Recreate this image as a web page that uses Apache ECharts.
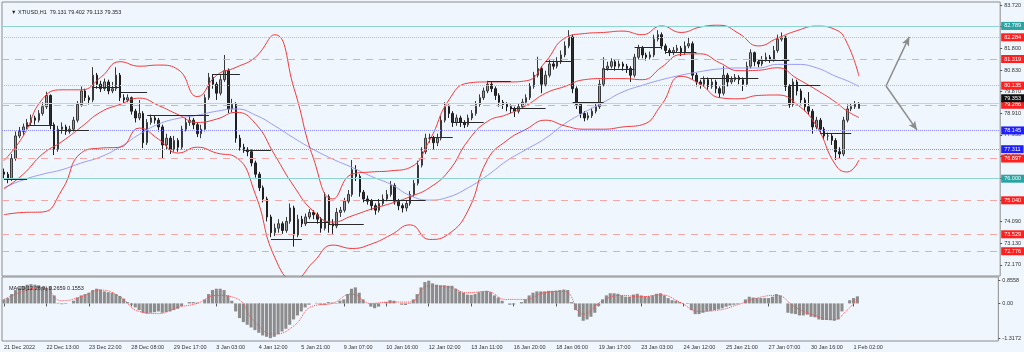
<!DOCTYPE html>
<html><head><meta charset="utf-8">
<script src="https://cdn.jsdelivr.net/npm/echarts@6/dist/echarts.min.js"></script>
<style>html,body{margin:0;padding:0;background:#f0f6fd;}#c{width:1024px;height:352px;}</style>
</head><body><div id="c"></div>
<script>
// ---------- DATA (3-hour bars) ----------
const titleText = '\u25BC XTIUSD,H1  79.131 79.402 79.113 79.353';
const macdTitle = 'MACD(12,26,9) 0.2659 0.1553';
const xTickLabels = ["21 Dec 2022","22 Dec 13:00","23 Dec 22:00","28 Dec 08:00","29 Dec 17:00","3 Jan 03:00","4 Jan 12:00","5 Jan 21:00","9 Jan 07:00","10 Jan 16:00","12 Jan 02:00","13 Jan 11:00","16 Jan 20:00","18 Jan 06:00","19 Jan 17:00","23 Jan 03:00","24 Jan 12:00","25 Jan 21:00","27 Jan 07:00","30 Jan 16:00","1 Feb 02:00"];
const priceTicks = [83.720,82.760,81.800,80.830,79.870,78.910,77.950,76.990,76.030,75.060,74.090,73.130,72.170];
const macdTicks = [0.8558,0,-1.3172];
const macdTickLabels = ['0.8558','0.00','-1.3172'];

const opens = [76.3,76.2,76.0,76.9,77.9,78.1,78.3,78.5,78.7,78.6,
78.9,79.2,79.7,78.4,77.3,78.2,78.3,78.1,78.2,78.6,
79.3,79.9,79.6,79.5,80.6,80.2,80.0,80.3,79.9,80.0,
80.6,79.6,79.5,79.6,79.0,78.7,78.9,77.6,78.5,78.7,
78.6,78.3,77.5,77.8,77.3,77.7,77.4,78.2,78.5,78.6,
78.4,78.0,78.2,79.6,80.5,80.2,79.8,80.4,80.8,79.1,
79.3,77.8,77.4,77.3,77.2,76.7,76.2,75.6,75.1,74.3,
73.6,73.8,74.0,73.7,74.1,74.7,73.5,74.2,74.0,74.3,
74.5,74.4,74.2,73.8,75.2,74.0,73.9,74.5,74.6,75.0,
75.3,76.4,76.1,75.4,75.1,75.0,74.8,74.6,74.9,75.1,
75.3,75.7,75.0,74.8,74.7,74.9,75.3,75.8,76.6,77.2,
77.8,77.8,77.6,77.8,78.6,79.2,78.9,78.5,78.7,78.5,
78.4,78.7,78.9,79.3,79.6,79.9,80.2,80.0,79.7,79.4,
79.3,79.2,79.1,79.0,79.2,79.4,79.6,80.1,80.6,80.9,
80.2,80.6,81.1,81.0,81.2,81.5,81.9,82.3,80.0,79.3,
78.9,78.7,78.8,79.0,79.2,80.2,80.9,81.0,81.2,81.0,
81.1,81.0,80.9,80.6,81.4,81.8,81.5,81.4,81.5,82.2,
82.4,81.9,81.7,81.6,81.7,81.8,81.6,81.9,82.0,80.6,
80.3,80.2,80.4,80.1,80.3,80.0,79.8,80.6,80.3,80.4,
80.5,80.4,80.2,81.0,81.6,81.2,81.1,81.3,81.4,81.3,
81.7,82.2,82.3,80.1,79.3,80.3,79.9,79.5,79.2,79.0,
78.3,78.6,78.2,77.9,77.9,77.7,77.2,77.1,78.6,79.1,79.2,79.131];
const closes = [76.2,76.0,76.9,77.9,78.1,78.3,78.5,78.7,78.6,78.9,
79.2,79.7,78.4,77.3,78.2,78.3,78.1,78.2,78.6,79.3,
79.9,79.6,79.5,80.6,80.2,80.0,80.3,79.9,80.0,80.6,
79.6,79.5,79.6,79.0,78.7,78.9,77.6,78.5,78.7,78.6,
78.3,77.5,77.8,77.3,77.7,77.4,78.2,78.5,78.6,78.4,
78.0,78.2,79.6,80.5,80.2,79.8,80.4,80.8,79.1,79.3,
77.8,77.4,77.3,77.2,76.7,76.2,75.6,75.1,74.3,73.6,
73.8,74.0,73.7,74.1,74.7,73.5,74.2,74.0,74.3,74.5,
74.4,74.2,73.8,75.2,74.0,73.9,74.5,74.6,75.0,75.3,
76.4,76.1,75.4,75.1,75.0,74.8,74.6,74.9,75.1,75.3,
75.7,75.0,74.8,74.7,74.9,75.3,75.8,76.6,77.2,77.8,
77.8,77.6,77.8,78.6,79.2,78.9,78.5,78.7,78.5,78.4,
78.7,78.9,79.3,79.6,79.9,80.2,80.0,79.7,79.4,79.3,
79.2,79.1,79.0,79.2,79.4,79.6,80.1,80.6,80.9,80.2,
80.6,81.1,81.0,81.2,81.5,81.9,82.3,80.0,79.3,78.9,
78.7,78.8,79.0,79.2,80.2,80.9,81.0,81.2,81.0,81.1,
81.0,80.9,80.6,81.4,81.8,81.5,81.4,81.5,82.2,82.4,
81.9,81.7,81.6,81.7,81.8,81.6,81.9,82.0,80.6,80.3,
80.2,80.4,80.1,80.3,80.0,79.8,80.6,80.3,80.4,80.5,
80.4,80.2,81.0,81.6,81.2,81.1,81.3,81.4,81.3,81.7,
82.2,82.3,80.1,79.3,80.3,79.9,79.5,79.2,79.0,78.3,
78.6,78.2,77.9,77.9,77.7,77.2,77.1,78.6,79.1,79.2,79.3,79.353];
const highs = [76.45,76.3,77.1,78.1,78.3,78.45,78.65,78.85,78.8,79.05,
79.4,79.87,79.75,78.5,78.35,78.5,78.4,78.35,78.75,79.45,
80.1,80.0,79.7,80.96,80.7,80.35,80.45,80.4,80.3,80.95,
80.7,79.75,79.75,79.65,79.1,79.5,79.0,78.65,78.85,78.8,
78.7,78.4,78.0,77.9,77.9,77.8,78.35,78.7,78.8,78.7,
78.5,78.4,79.75,80.7,80.65,80.3,80.6,81.5,80.9,79.55,
79.4,77.95,77.55,77.4,77.3,76.8,76.3,75.7,75.2,74.4,
74.0,74.2,74.1,74.3,74.9,74.8,74.4,74.35,74.45,74.65,
74.6,74.5,74.3,75.4,75.3,74.2,74.7,74.75,75.15,75.5,
76.83,76.6,76.2,75.5,75.25,75.1,74.9,75.1,75.3,75.5,
75.9,75.8,75.1,74.9,75.05,75.45,75.95,76.8,77.4,78.0,
78.0,77.9,78.0,78.8,79.4,79.3,79.0,78.85,78.8,78.6,
78.85,79.05,79.45,79.75,80.05,80.35,80.3,80.1,79.8,79.5,
79.4,79.3,79.2,79.35,79.55,79.75,80.25,80.75,81.42,81.0,
80.8,81.3,81.25,81.4,81.7,82.1,82.6,82.4,80.1,79.4,
79.0,78.95,79.15,79.35,80.4,81.4,81.2,81.35,81.3,81.25,
81.2,81.1,81.0,81.55,81.95,81.9,81.6,81.65,82.4,82.6,
82.5,82.0,81.8,81.85,81.95,81.9,82.1,82.3,82.1,80.7,
80.4,80.55,80.5,80.45,80.4,80.1,81.0,80.7,80.55,80.65,
80.6,80.5,81.2,81.75,81.65,81.3,81.45,81.6,81.5,81.9,
82.4,82.5,82.35,80.2,80.45,80.4,80.0,79.6,79.85,79.1,
78.75,78.7,78.3,78.05,78.0,77.8,77.4,78.75,79.3,79.35,79.45,79.402];
const lows = [76.0,75.8,75.9,76.8,77.8,77.95,78.2,78.35,78.4,78.5,
78.8,79.1,78.2,77.05,77.2,78.0,77.95,78.0,78.1,78.5,
79.2,79.45,79.3,79.4,80.0,79.85,79.9,79.75,79.8,79.9,
79.45,79.35,79.4,78.85,78.5,78.6,77.36,77.5,78.4,78.45,
78.1,76.92,77.3,77.1,77.2,77.2,77.3,78.1,78.35,78.2,
77.85,77.8,78.1,79.5,80.0,79.5,79.7,80.3,78.92,78.95,
77.6,77.25,77.15,77.0,76.55,76.05,75.45,74.95,74.1,73.4,
73.45,73.6,73.55,73.6,74.0,72.98,73.4,73.85,73.9,74.2,
74.2,74.0,73.6,73.7,73.6,73.55,73.8,74.3,74.5,74.9,
75.2,75.9,75.2,74.95,74.85,74.6,74.4,74.5,74.8,75.0,
75.2,74.85,74.6,74.5,74.55,74.8,75.2,75.7,76.5,77.1,
77.6,77.3,77.45,77.7,78.5,78.7,78.3,78.35,78.3,78.25,
78.3,78.6,78.8,79.2,79.5,79.8,79.85,79.5,79.2,79.1,
79.0,78.9,78.74,78.9,79.1,79.3,79.5,80.0,80.5,79.8,
80.1,80.5,80.85,80.9,81.1,81.4,81.8,79.8,79.1,78.7,
78.55,78.6,78.7,78.9,79.1,80.1,80.8,80.9,80.8,80.9,
80.8,80.7,80.3,80.5,81.3,81.35,81.25,81.3,81.4,82.1,
81.75,81.55,81.45,81.5,81.6,81.45,81.5,81.8,80.4,80.1,
80.0,80.1,79.95,80.0,79.8,79.6,79.7,80.1,80.2,80.3,
80.2,79.9,80.1,80.9,81.0,80.95,81.0,81.2,81.15,81.2,
81.6,82.1,79.9,79.15,79.2,79.7,79.3,79.0,78.85,78.0,
78.2,78.0,77.75,77.7,77.5,76.83,76.9,77.0,78.5,79.0,79.1,79.113];

const macdHist = [0.15,0.2,0.35,0.5,0.6,0.65,0.7,0.72,0.7,0.68,
0.62,0.58,0.64,0.3,0.02,-0.03,-0.02,0.0,0.1,0.22,
0.3,0.35,0.4,0.5,0.55,0.52,0.45,0.42,0.4,0.35,
0.28,0.18,0.05,-0.05,-0.15,-0.25,-0.35,-0.38,-0.35,-0.33,
-0.3,-0.35,-0.32,-0.3,-0.25,-0.2,-0.1,0.0,0.05,0.05,
0.03,0.0,0.15,0.35,0.5,0.55,0.55,0.5,0.3,0.1,
-0.3,-0.55,-0.7,-0.8,-0.9,-1.0,-1.1,-1.2,-1.25,-1.3,
-1.25,-1.15,-1.05,-0.95,-0.8,-0.6,-0.45,-0.3,-0.15,-0.05,
0.0,0.02,-0.05,-0.05,0.05,0.03,-0.02,0.1,0.15,0.35,
0.55,0.6,0.4,0.15,0.0,-0.12,-0.18,-0.12,0.0,0.05,
0.12,0.1,0.0,-0.05,-0.06,-0.02,0.15,0.35,0.6,0.8,
0.85,0.75,0.7,0.68,0.68,0.66,0.66,0.55,0.45,0.4,
0.33,0.32,0.35,0.42,0.45,0.47,0.42,0.3,0.22,0.1,
0.0,-0.05,-0.04,0.0,0.05,0.15,0.3,0.4,0.45,0.45,
0.45,0.47,0.47,0.48,0.5,0.52,0.5,0.05,-0.25,-0.5,
-0.65,-0.6,-0.5,-0.35,-0.1,0.15,0.3,0.38,0.38,0.36,
0.3,0.25,0.25,0.33,0.36,0.3,0.27,0.27,0.3,0.36,
0.38,0.3,0.2,0.12,0.1,0.05,0.0,-0.02,-0.25,-0.4,
-0.4,-0.35,-0.3,-0.28,-0.25,-0.22,-0.18,-0.12,-0.08,-0.05,
-0.03,0.0,0.15,0.25,0.22,0.2,0.2,0.2,0.2,0.25,
0.35,0.3,0.0,-0.35,-0.38,-0.4,-0.45,-0.45,-0.42,-0.5,
-0.52,-0.6,-0.62,-0.62,-0.63,-0.65,-0.6,-0.3,0.0,0.12,0.2,0.2659];

// indicator lines sampled at these bar indices
const sampleIdx = [0,5,10,15,20,25,30,35,40,45,50,55,60,65,70,75,80,85,90,95,100,105,110,115,120,125,130,135,140,145,150,155,160,165,170,175,180,185,190,195,200,205,210,215,218,221];
const bbUpper = [76.8,77.9,79.55,79.95,79.95,80.5,81.2,81.0,81.05,80.85,
79.65,80.6,80.95,81.4,82.4,80.0,76.9,75.1,76.2,76.3,
76.35,76.5,77.7,79.5,80.25,80.3,80.3,80.35,81.2,82.25,
82.45,82.5,82.56,82.4,82.79,82.5,82.74,82.82,82.45,81.9,
82.25,82.58,82.78,82.62,82.0,80.55];
const bbMiddle = [75.55,76.2,77.1,77.65,78.3,78.96,79.3,79.58,79.25,78.85,
78.5,78.65,78.95,78.45,77.05,75.65,74.55,74.07,74.35,74.65,
74.9,75.2,75.6,76.35,77.7,78.55,78.85,79.25,79.8,80.1,
80.4,80.45,80.45,80.4,80.96,81.52,81.55,81.15,80.8,80.82,
80.93,80.45,79.95,79.4,79.0,78.72];
const bbLower = [74.4,74.5,74.52,75.5,77.15,77.36,77.4,78.25,77.75,77.14,
77.4,77.14,76.95,75.3,72.5,71.5,72.3,73.05,72.9,73.1,
73.5,73.95,73.3,73.55,74.6,76.85,77.7,78.2,78.6,78.35,
78.2,78.2,78.3,78.4,79.3,80.55,80.2,79.6,79.55,79.7,
79.72,79.3,78.35,76.6,76.3,76.83];
const maSlow = [75.6,75.95,76.2,76.4,76.7,76.97,77.41,77.97,78.43,78.68,
78.82,79.0,79.1,78.83,78.35,77.8,77.3,76.87,76.5,76.1,
75.75,75.25,75.05,75.19,75.6,76.15,76.8,77.3,77.8,78.45,
78.95,79.4,79.86,80.15,80.4,80.6,80.76,80.88,80.92,80.92,
81.08,81.08,80.93,80.55,80.35,80.1];
const macdSignal = [0.15,0.45,0.6,0.1,0.25,0.5,0.25,-0.3,-0.38,-0.15,
0.0,0.3,0.2,-0.7,-1.15,-0.85,-0.1,0.0,0.35,0.0,
0.05,0.05,0.65,0.62,0.4,0.45,0.15,0.15,0.4,0.45,
-0.4,0.1,0.3,0.25,0.32,0.05,-0.3,-0.25,-0.05,0.2,
0.3,-0.15,-0.45,-0.6,-0.3,0.1553];

// horizontal levels: [price, kind]
const levels = [
  [82.789,'teal'],[82.284,'redDot'],[81.319,'redDash'],[80.135,'redDot'],[79.286,'redDash'],
  [78.145,'blueDot'],[77.311,'blueDot'],[76.897,'redDash'],[76.000,'teal'],
  [75.040,'redDash'],[73.529,'redDash'],[72.776,'redDash']
];
const lastPrice = 79.353;
// daily level segments: [startBar, endBar, price]
const daySegments = [[0,6,75.97],[6,13,78.39],[14,22,78.16],[23,30,80.08],[30,37,79.85],[37,53,78.8],
[54,61,80.63],[62,69,77.28],[69,77,73.32],[78,84,74.07],[84,93,73.99],[93,109,75.05],
[110,116,77.85],[116,124,78.52],[125,131,80.34],[131,140,79.14],[140,147,81.23],[147,155,79.41],
[155,163,80.88],[163,170,81.85],[171,179,81.63],[180,195,80.46],[195,203,81.28],[203,211,80.16],[211,219,78.03]];
// projection arrows: [fromBar, fromPrice, toBar, toPrice]
const arrows = [[228,80.12,234,82.30],[228,80.12,236,78.16]];

// ---------- CHART ----------
const N = 258;
const cats = Array.from({length:N},(_,i)=>String(i));
const candles = opens.map((o,i)=>[o, closes[i], lows[i], highs[i]]);
const pairs = arr => arr.map((v,i)=>[sampleIdx[i], v]);
const styles = {
  teal:{line:{color:'#8fd3d3',type:'solid',width:1.2},bg:'#2aa3a3'},
  redDot:{line:{color:'#f5a3ad',type:'dotted',width:1},bg:'#ff1f1f'},
  redDash:{line:{color:'#f2a6a6',type:[7,6],width:1},bg:'#ff1f1f'},
  blueDot:{line:{color:'#8a8aff',type:'dotted',width:1},bg:'#2020ff'}
};
const FONT = 'Liberation Sans';
const FS = 5.5;
const tag = (bg) => ({show:true,position:'end',distance:1,color:'#fff',backgroundColor:bg,fontSize:FS,fontFamily:FONT,padding:[1,3,1,3]});
const mlData = [];
levels.forEach(([p,k])=>{
  mlData.push({yAxis:p,lineStyle:styles[k].line,label:Object.assign(tag(styles[k].bg),{formatter:p.toFixed(3)})});
});
mlData.push({yAxis:lastPrice,lineStyle:{color:'#cfcfcf',type:'solid',width:1},label:Object.assign(tag('#111'),{formatter:lastPrice.toFixed(3),offset:[0,-5]})});
daySegments.forEach(([s,e,p])=>{
  mlData.push([{coord:[s,p],lineStyle:{color:'#2a2a2a',type:'solid',width:1},label:{show:false}},{coord:[e,p]}]);
});
arrows.forEach(([s,p1,e,p2])=>{
  mlData.push([{coord:[s,p1],symbol:'none',lineStyle:{color:'#8c8c8c',type:'solid',width:1.5},label:{show:false}},{coord:[e,p2],symbol:'arrow',symbolSize:[6,9]}]);
});

const chart = echarts.init(document.getElementById('c'),null,{renderer:'canvas'});
chart.setOption({
  animation:false,
  backgroundColor:'#f0f6fd',
  title:[
    {text:titleText,left:6,top:4,textStyle:{fontSize:FS,fontWeight:'normal',color:'#222',fontFamily:FONT}},
    {text:macdTitle,left:4,top:280,textStyle:{fontSize:FS,fontWeight:'normal',color:'#222',fontFamily:FONT}}
  ],
  grid:[
    {left:2,right:22,top:2,height:274,show:true,borderColor:'#8c8c8c',borderWidth:1,backgroundColor:'transparent'},
    {left:2,right:22,top:277,height:64,show:true,borderColor:'#8c8c8c',borderWidth:1,backgroundColor:'transparent'}
  ],
  xAxis:[
    {type:'category',gridIndex:0,data:cats,boundaryGap:true,axisLine:{show:false},axisTick:{show:false},axisLabel:{show:false},splitLine:{show:false}},
    {type:'category',gridIndex:1,data:cats,boundaryGap:true,axisLine:{show:false},
     axisTick:{show:true,alignWithLabel:true,length:3,interval:(i)=>i%11===0&&i<=220,lineStyle:{color:'#555'}},
     axisLabel:{show:true,interval:(i)=>i%11===0&&i<=220,formatter:(v,i)=>xTickLabels[Math.round(i/11)]||'',align:'left',fontSize:FS,fontFamily:FONT,color:'#333',margin:3},
     splitLine:{show:false}}
  ],
  yAxis:[
    {type:'value',gridIndex:0,position:'right',min:71.676,max:83.853,scale:true,
     axisLine:{show:false},splitLine:{show:false},
     axisTick:{show:true,length:2,customValues:priceTicks,lineStyle:{color:'#555'}},
     axisLabel:{show:true,customValues:priceTicks,formatter:v=>v.toFixed(3),fontSize:FS,fontFamily:FONT,color:'#333',margin:4}},
    {type:'value',gridIndex:1,position:'right',min:-1.407,max:0.989,
     axisLine:{show:false},splitLine:{show:false},
     axisTick:{show:true,length:2,customValues:macdTicks,lineStyle:{color:'#555'}},
     axisLabel:{show:true,customValues:macdTicks,formatter:v=>macdTickLabels[macdTicks.indexOf(v)]!==undefined?macdTickLabels[macdTicks.indexOf(v)]:String(v),fontSize:FS,fontFamily:FONT,color:'#333',margin:4}}
  ],
  series:[
    {type:'candlestick',xAxisIndex:0,yAxisIndex:0,data:candles,barWidth:2,
     itemStyle:{color:'#9a9a9a',color0:'#2b2b2b',borderColor:'#3a3a3a',borderColor0:'#1e1e1e',borderWidth:1},
     markLine:{silent:true,symbol:'none',animation:false,precision:3,data:mlData}},
    {type:'line',xAxisIndex:0,yAxisIndex:0,data:pairs(maSlow),smooth:0.5,symbol:'none',lineStyle:{color:'#9b9bf5',width:1},z:3},
    {type:'line',xAxisIndex:0,yAxisIndex:0,data:pairs(bbUpper),smooth:0.5,symbol:'none',lineStyle:{color:'#f23a3a',width:1},z:3},
    {type:'line',xAxisIndex:0,yAxisIndex:0,data:pairs(bbMiddle),smooth:0.5,symbol:'none',lineStyle:{color:'#f23a3a',width:1},z:3},
    {type:'line',xAxisIndex:0,yAxisIndex:0,data:pairs(bbLower),smooth:0.5,symbol:'none',lineStyle:{color:'#f23a3a',width:1},z:3},
    {type:'bar',xAxisIndex:1,yAxisIndex:1,data:macdHist,barCategoryGap:'20%',itemStyle:{color:'#8c8c8c'}},
    {type:'line',xAxisIndex:1,yAxisIndex:1,data:pairs(macdSignal),smooth:0.5,symbol:'none',lineStyle:{color:'#ff4a4a',width:1,type:'dotted'},z:3}
  ]
});
</script></body></html>
